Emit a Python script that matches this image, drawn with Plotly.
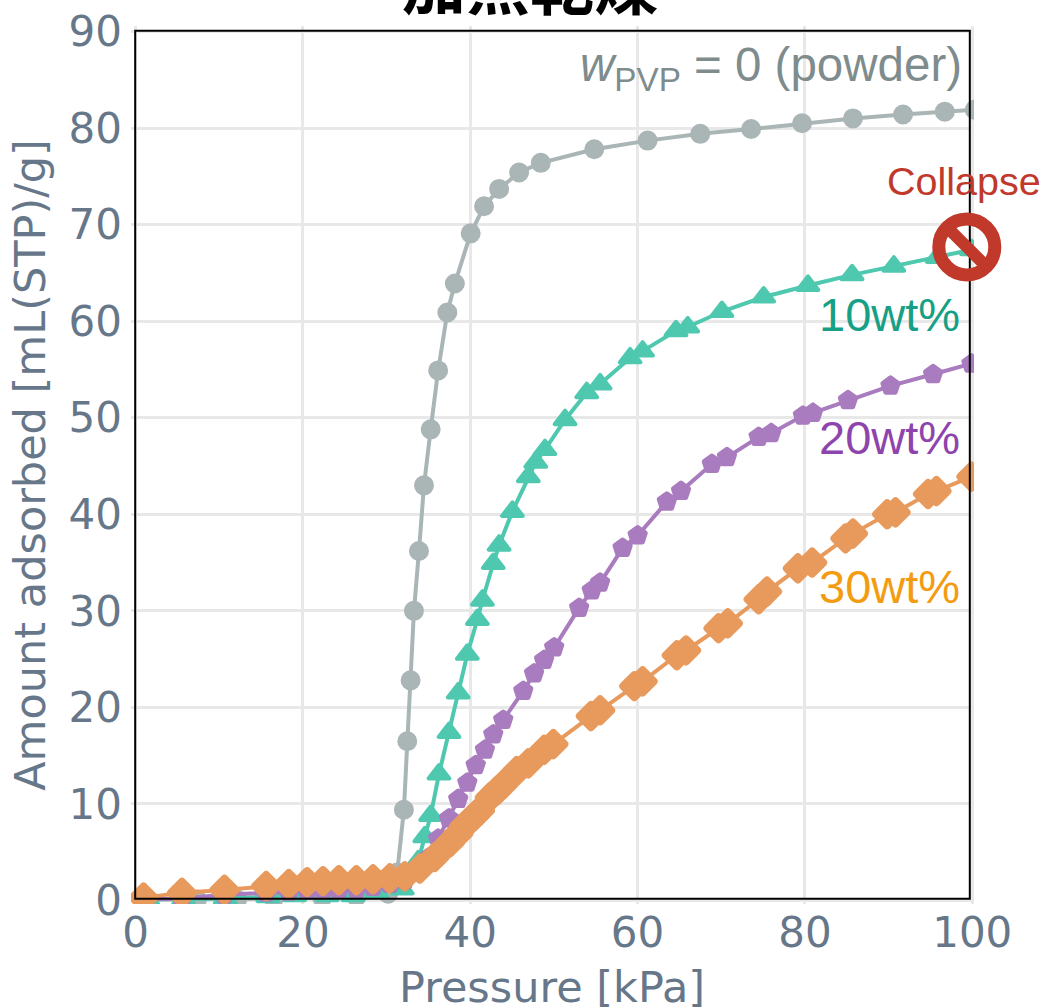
import plotly.graph_objects as go

powder_x = [1.45, 7.33, 12.12, 16.51, 22.3, 26.39, 30.18, 31.27, 32.07, 32.47, 32.87, 33.27, 33.87, 34.47, 35.27, 36.16, 37.26, 38.16, 40.05, 41.65, 43.45, 45.84, 48.43, 54.82, 61.2, 67.49, 73.57, 79.66, 85.74, 91.73, 96.72, 100.31]
powder_y = [0.1, 0.1, 0.1, 0.2, 0.3, 0.4, 0.7, 2.9, 9.4, 16.5, 22.8, 30.0, 36.2, 43.0, 48.8, 54.9, 60.9, 63.9, 69.1, 71.9, 73.7, 75.4, 76.4, 77.8, 78.7, 79.4, 79.9, 80.5, 81.0, 81.4, 81.7, 81.9]

w10_x = [1.45, 5.74, 10.72, 15.81, 19.0, 22.89, 25.99, 28.88, 31.87, 33.77, 34.57, 35.27, 36.26, 37.46, 38.56, 39.65, 40.85, 41.45, 42.75, 43.45, 45.04, 46.94, 47.83, 48.93, 51.33, 53.92, 55.52, 59.11, 60.6, 64.59, 65.99, 70.08, 75.07, 80.36, 85.64, 90.63, 95.82, 99.91]
w10_y = [0.1, 0.1, 0.2, 0.4, 0.5, 0.5, 0.5, 0.8, 1.2, 4.1, 6.6, 8.8, 13.1, 17.4, 21.5, 25.5, 29.1, 31.1, 34.9, 36.8, 40.3, 43.9, 45.4, 46.7, 49.8, 52.6, 53.5, 56.2, 56.9, 59.0, 59.4, 61.0, 62.5, 63.7, 64.8, 65.7, 66.6, 67.4]

w20_x = [0.95, 5.54, 10.62, 15.61, 18.31, 20.5, 22.4, 24.29, 26.39, 28.38, 30.38, 32.17, 33.77, 34.97, 36.16, 37.46, 38.56, 39.65, 40.65, 41.75, 42.75, 43.94, 46.34, 47.63, 48.83, 50.03, 53.02, 54.52, 55.52, 58.21, 60.01, 63.5, 65.19, 68.88, 70.68, 74.47, 75.97, 79.76, 80.96, 85.15, 90.23, 95.32, 99.91]
w20_y = [0.1, 0.2, 0.6, 0.8, 0.9, 1.0, 1.0, 1.1, 1.2, 1.4, 1.7, 2.1, 3.5, 4.4, 6.4, 8.5, 10.5, 12.2, 14.0, 15.6, 17.2, 18.7, 21.7, 23.5, 24.9, 26.2, 30.3, 32.1, 32.9, 36.5, 37.8, 41.3, 42.4, 45.2, 45.9, 48.0, 48.4, 50.2, 50.5, 51.8, 53.3, 54.5, 55.6]

w30_x = [0.95, 5.54, 10.62, 15.61, 18.31, 20.5, 22.4, 24.29, 26.39, 28.38, 30.38, 32.17, 33.97, 35.76, 37.56, 38.56, 39.26, 39.95, 40.55, 41.15, 42.35, 43.25, 43.94, 45.54, 46.94, 48.83, 49.93, 54.42, 55.52, 59.61, 60.6, 64.69, 65.79, 69.68, 70.78, 74.47, 75.47, 79.16, 80.86, 84.85, 85.74, 89.83, 90.83, 94.72, 95.72, 99.91]
w30_y = [0.3, 0.8, 1.1, 1.5, 1.7, 1.9, 2.0, 2.1, 2.1, 2.2, 2.3, 2.5, 3.3, 4.5, 6.0, 6.9, 7.7, 8.3, 8.8, 9.3, 10.7, 11.4, 12.0, 13.4, 14.2, 15.6, 16.2, 19.1, 19.7, 22.2, 22.7, 25.4, 25.9, 28.2, 28.7, 31.2, 32.0, 34.4, 35.0, 37.5, 38.0, 40.0, 40.2, 42.1, 42.4, 43.9]

x_ticks = [0, 20, 40, 60, 80, 100]
y_ticks = [0, 10, 20, 30, 40, 50, 60, 70, 80, 90]

W, H = 1044, 1007
L, R, T, B = 130.8, 974.2, 26.2, 903.8
INK = "#67778a"
GRID = "#e8e8e8"
SANS = "Liberation Sans"


def px(v):
    return (v - L) / (R - L)


def py(v):
    return (B - v) / (B - T)


fig = go.Figure()
series = [
    ("powder", powder_x, powder_y, "#aab5b6", "circle", 18, 2),
    ("10wt%", w10_x, w10_y, "#4ec8ae", "triangle-up", 18, 4),
    ("20wt%", w20_x, w20_y, "#a97bbf", "pentagon", 16, 5),
    ("30wt%", w30_x, w30_y, "#e89a5c", "diamond", 17, 8),
]
for name, xs, ys, col, sym, size, edge in series:
    fig.add_trace(go.Scatter(
        x=xs, y=ys, name=name, mode="lines+markers",
        line=dict(color=col, width=4),
        marker=dict(symbol=sym, size=size, color=col, line=dict(color=col, width=edge)),
    ))

axis_common = dict(
    showgrid=True, gridcolor=GRID, gridwidth=3,
    zeroline=True, zerolinecolor=GRID, zerolinewidth=3,
    showline=False, ticks="", tickmode="array",
    tickfont=dict(family="DejaVu Sans", size=42, color=INK),
)
fig.update_xaxes(range=[-0.55, 100.21], tickvals=x_ticks, ticklabelstandoff=0, **axis_common)
fig.update_yaxes(range=[-0.36, 90.57], tickvals=y_ticks, ticklabelstandoff=8,
                 title=dict(text="Amount adsorbed [mL(STP)/g]", standoff=9,
                            font=dict(family="DejaVu Sans", size=43, color=INK)),
                 **axis_common)

shapes = [
    dict(type="rect", xref="paper", yref="paper", x0=px(135), x1=px(970), y0=py(898.5), y1=py(31),
         line=dict(color="#000000", width=2), layer="above"),
    dict(type="circle", xref="paper", yref="paper", x0=px(967 - 28), x1=px(967 + 28),
         y0=py(247 + 28), y1=py(247 - 28), line=dict(color="#c0392b", width=13), layer="above"),
    dict(type="line", xref="paper", yref="paper", x0=px(967 - 20), x1=px(967 + 20),
         y0=py(247 - 20), y1=py(247 + 20), line=dict(color="#c0392b", width=12), layer="above"),
]


def label(text, right, cy, color, size, family=SANS):
    return dict(text=text, xref="paper", yref="paper", x=px(right), y=py(cy),
                xanchor="right", yanchor="middle", showarrow=False,
                font=dict(family=family, size=size, color=color))


annotations = [
    label("<i>w</i><sub>PVP</sub> = 0 (powder)", 964, 68, "#7f8c8d", 47.5),
    label("Collapse", 1043, 181, "#c0392b", 39.5),
    label("10wt%", 962, 315, "#16a085", 47),
    label("20wt%", 962, 438, "#8e44ad", 47),
    label("30wt%", 962, 586, "#f39c12", 47),
    label("Pressure [kPa]", 707, 987, INK, 43, "DejaVu Sans"),
    dict(text="<b>加熱乾燥</b>", xref="paper", yref="paper", x=px(530), y=py(-19),
         xanchor="center", yanchor="middle", showarrow=False,
         font=dict(family="Noto Sans CJK JP", size=64, color="#000000")),
]

fig.update_layout(
    width=W, height=H, showlegend=False,
    paper_bgcolor="white", plot_bgcolor="white",
    margin=dict(l=L, r=W - R, t=T, b=H - B, pad=0, autoexpand=False),
    shapes=shapes, annotations=annotations,
)
post = ("document.body.style.margin='0';"
        "var s=document.createElement('style');"
        "s.textContent='.scatterlayer .points path{stroke-linejoin:round}';"
        "document.head.appendChild(s);")
fig.write_html("out.html", post_script=post, config={"displayModeBar": False})
